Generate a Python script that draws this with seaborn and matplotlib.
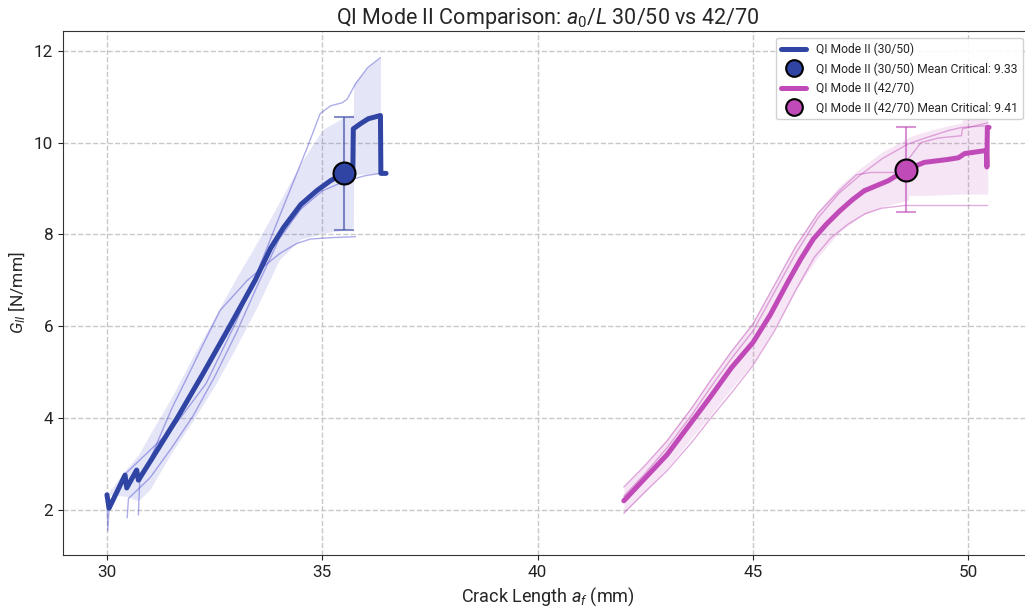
import numpy as np
import pandas as pd
import matplotlib
matplotlib.use("Agg")
import matplotlib.pyplot as plt
from matplotlib.lines import Line2D
import seaborn as sns

# ---------------- data ----------------
# QI Mode II (30/50)
b_mean_x = [30.00, 30.05, 30.42, 30.46, 30.69, 30.73, 31.00, 31.63, 32.25, 32.85, 33.44,
            33.80, 34.10, 34.50, 34.88, 35.19, 35.49, 35.71, 35.72, 35.90, 36.07, 36.35,
            36.36, 36.48]
b_mean_y = [2.33, 2.04, 2.76, 2.48, 2.87, 2.65, 3.05, 4.00, 5.00, 6.00, 7.00,
            7.70, 8.15, 8.65, 8.96, 9.17, 9.33, 9.46, 10.30, 10.42, 10.52, 10.59,
            9.33, 9.33]
b_band_x = [30.00, 30.45, 30.73, 31.00, 31.50, 32.00, 32.50, 33.00, 33.50, 34.00, 34.50,
            35.00, 35.50, 35.72, 35.73, 36.05, 36.35]
b_band_hi = [2.33, 2.90, 3.20, 3.65, 4.45, 5.35, 6.20, 7.05, 7.85, 8.70, 9.55,
             10.28, 10.55, 10.60, 11.28, 11.63, 11.85]
b_band_lo = [2.33, 2.30, 2.20, 2.45, 3.25, 3.95, 4.70, 5.55, 6.45, 7.45, 7.90,
             8.02, 8.10, 8.15, 9.30, 9.32, 9.33]
b_s1_x = [30.00, 30.02, 30.05, 30.42, 30.72, 31.50, 32.30, 33.00, 33.50, 34.09, 34.65,
          34.95, 35.19, 35.47, 35.58, 35.77, 36.05, 36.35]
b_s1_y = [2.33, 1.55, 2.05, 2.78, 3.05, 3.75, 4.75, 6.10, 7.20, 8.59, 9.89,
          10.63, 10.80, 10.87, 10.95, 11.28, 11.63, 11.85]
b_s2_x = [30.47, 30.50, 31.00, 31.50, 32.00, 32.50, 33.00, 33.50, 34.00, 34.50, 35.00,
          35.50, 36.00, 36.35]
b_s2_y = [1.83, 2.25, 2.70, 3.35, 4.05, 4.90, 5.85, 6.90, 7.90, 8.55, 8.95,
          9.15, 9.28, 9.33]
b_s3_x = [30.73, 30.76, 31.00, 31.50, 32.00, 32.23, 32.63, 33.26, 33.70, 34.02, 34.40,
          34.72, 35.20, 35.77]
b_s3_y = [1.89, 2.60, 3.10, 4.20, 5.15, 5.60, 6.35, 7.00, 7.35, 7.59, 7.80,
          7.90, 7.93, 7.95]
b_crit_x, b_crit_y, b_crit_err = 35.50, 9.33, 1.23

# QI Mode II (42/70)
m_mean_x = [42.00, 42.50, 43.00, 43.60, 44.00, 44.50, 45.00, 45.40, 45.80, 46.10, 46.40,
            46.70, 47.00, 47.30, 47.58, 48.14, 48.56, 48.98, 49.50, 49.77, 49.91, 50.42,
            50.43, 50.44, 50.48]
m_mean_y = [2.20, 2.70, 3.20, 3.95, 4.45, 5.10, 5.65, 6.25, 6.95, 7.45, 7.90,
            8.22, 8.50, 8.75, 8.95, 9.17, 9.41, 9.57, 9.63, 9.67, 9.76, 9.83,
            9.47, 10.33, 10.33]
m_band_x = [42.00, 42.50, 43.00, 43.60, 44.00, 44.50, 45.00, 45.50, 46.00, 46.50, 47.00,
            47.50, 48.00, 48.60, 48.62, 49.00, 49.50, 49.85, 49.87, 50.20, 50.45]
m_band_hi = [2.52, 3.00, 3.55, 4.30, 4.85, 5.50, 6.10, 6.95, 7.80, 8.50, 9.05,
             9.45, 9.80, 10.10, 10.12, 10.24, 10.36, 10.43, 10.52, 10.56, 10.59]
m_band_lo = [1.93, 2.40, 2.90, 3.60, 4.05, 4.65, 5.20, 5.95, 6.80, 7.50, 8.05,
             8.40, 8.60, 8.75, 8.85, 8.85, 8.87, 8.88, 8.88, 8.88, 8.88]
m_s1_x = [42.00, 42.50, 43.00, 43.60, 44.00, 44.50, 45.00, 45.50, 46.00, 46.50, 47.00,
          47.40, 47.74, 48.37, 48.90, 49.30, 49.84, 49.86, 50.45]
m_s1_y = [2.50, 2.98, 3.50, 4.25, 4.80, 5.45, 6.05, 6.90, 7.75, 8.45, 8.95,
          9.30, 9.35, 9.35, 10.00, 10.10, 10.15, 10.30, 10.43]
m_s2_x = [42.00, 42.50, 43.00, 43.60, 44.00, 44.50, 45.00, 45.50, 46.00, 46.50, 47.00,
          47.50, 48.00, 48.60, 49.00, 49.53, 49.84, 50.47]
m_s2_y = [2.30, 2.80, 3.35, 4.10, 4.65, 5.30, 5.90, 6.75, 7.60, 8.35, 8.90,
          9.30, 9.65, 9.97, 10.10, 10.26, 10.33, 10.37]
m_s3_x = [42.00, 42.50, 43.00, 43.60, 44.00, 44.50, 45.00, 45.50, 46.00, 46.42, 46.80,
          47.20, 47.60, 47.98, 48.51, 50.45]
m_s3_y = [1.93, 2.40, 2.85, 3.50, 3.98, 4.55, 5.15, 5.90, 6.80, 7.50, 7.92,
          8.22, 8.45, 8.57, 8.63, 8.63]
m_crit_x, m_crit_y, m_crit_err = 48.56, 9.41, 0.92

labels = ["QI Mode II (30/50)", "QI Mode II (42/70)"]
BLUE = "#2F44A3"
MAG = "#C04AB8"

# ---------------- style ----------------
sns.set_style("ticks")
plt.rcParams["font.family"] = ["Roboto", "DejaVu Sans"]
plt.rcParams["mathtext.fontset"] = "custom"
plt.rcParams["mathtext.rm"] = "Roboto"
plt.rcParams["mathtext.it"] = "Roboto:italic"

fig = plt.figure(figsize=(10.25, 6.08), dpi=100)
ax = fig.add_axes([63 / 1025, 53 / 608, 970 / 1025, 524 / 608])

groups = [
    (BLUE, "#4a4ad0", b_mean_x, b_mean_y, b_band_x, b_band_lo, b_band_hi,
     [(b_s1_x, b_s1_y), (b_s2_x, b_s2_y), (b_s3_x, b_s3_y)],
     (b_crit_x, b_crit_y, b_crit_err)),
    (MAG, MAG, m_mean_x, m_mean_y, m_band_x, m_band_lo, m_band_hi,
     [(m_s1_x, m_s1_y), (m_s2_x, m_s2_y), (m_s3_x, m_s3_y)],
     (m_crit_x, m_crit_y, m_crit_err)),
]

handles = []
for (col, fcol, mx, my, bx, blo, bhi, specs, crit), lab in zip(groups, labels):
    ax.fill_between(bx, blo, bhi, color=fcol, alpha=0.14, lw=0, zorder=1)
    for sx, sy in specs:
        sns.lineplot(x=sx, y=sy, ax=ax, sort=False, estimator=None,
                     color=fcol, lw=1.0, alpha=0.45, zorder=2)
    sns.lineplot(x=mx, y=my, ax=ax, sort=False, estimator=None,
                 color=col, lw=3.6, zorder=3)
    cx, cy, ce = crit
    ax.errorbar([cx], [cy], yerr=[ce], fmt="none", ecolor=col, alpha=0.6,
                elinewidth=1.5, capsize=7, capthick=1.5, zorder=4)
    sns.scatterplot(x=[cx], y=[cy], ax=ax, s=250, color=col,
                    edgecolor="black", linewidth=1.5, zorder=5)
    handles.append(Line2D([], [], color=col, lw=3.6, label=lab))
    handles.append(Line2D([], [], ls="none", marker="o", markersize=12,
                          markerfacecolor=col, markeredgecolor="black",
                          markeredgewidth=1.5,
                          label=f"{lab} Mean Critical: {cy:.2f}"))

ax.set_xlim(28.98, 51.5)
ax.set_ylim(1.02, 12.43)
ax.set_xticks([30, 35, 40, 45, 50])
ax.set_yticks([2, 4, 6, 8, 10, 12])
ax.grid(True, ls="--", color="#c8c8c8", lw=1.0)
ax.tick_params(labelsize=12.3, colors="#222222")
for s in ["left", "bottom", "top"]:
    ax.spines[s].set_color("#333333")
ax.spines["right"].set_visible(False)

ax.set_title("QI Mode II Comparison: $a_0/L$ 30/50 vs 42/70", fontsize=15.5, pad=5)
ax.set_xlabel("Crack Length $a_f$ (mm)", fontsize=13)
ax.set_ylabel("$G_{II}$ [N/mm]", fontsize=12.5)

leg = ax.legend(handles=handles, loc="upper left", fontsize=8.7,
                handlelength=2.1, framealpha=0.9, borderaxespad=0,
                bbox_to_anchor=(776 / 1025, 1 - 38 / 608),
                bbox_transform=fig.transFigure)

fig.savefig("out.png", dpi=100)
